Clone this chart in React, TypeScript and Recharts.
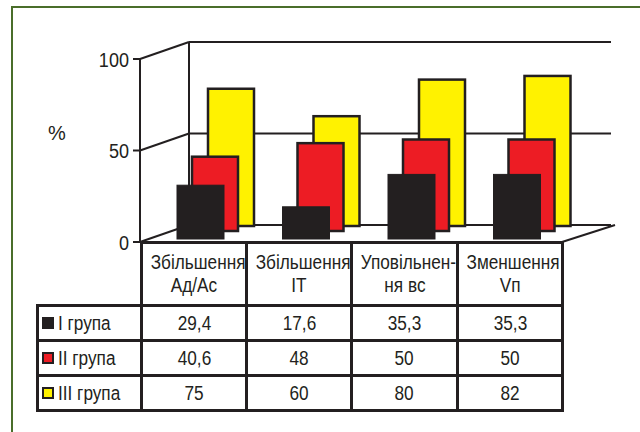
import React from 'react';
import { BarChart, Bar, XAxis, YAxis, CartesianGrid } from 'recharts';

const categories = ['Збільшення Ад/Ас', 'Збільшення ІТ', 'Уповільнення вс', 'Зменшення Vп'];
const headerLines = [
  ['Збільшення', 'Ад/Ас'],
  ['Збільшення', 'ІТ'],
  ['Уповільнен-', 'ня вс'],
  ['Зменшення', 'Vп'],
];
const group1 = [29.4, 17.6, 35.3, 35.3];
const group2 = [40.6, 48, 50, 50];
const group3 = [75, 60, 80, 82];
const seriesNames = ['I група', 'II група', 'III група'];
const yTicks = [0, 50, 100];

const INK = '#231f20';
const COLORS = ['#231f20', '#ed1c24', '#fff200'];
const FONT = '"Liberation Sans", Arial, sans-serif';
const SQUEEZE = 0.86; // the original uses a condensed face

// chart frame (the front plane of the 3d box)
const MARGIN = { top: 59, right: 78, left: 40, bottom: 190 };
const PLOT_H = 432 - MARGIN.top - MARGIN.bottom;
const DX = 49; // depth of the box
const DY = -17;

const data = categories.map((cat, i) => ({
  cat,
  g1: group1[i],
  g2: group2[i],
  g3: group3[i],
}));

const fmt = (v: number) => String(v).replace('.', ',');

// bars sit at different depths: shift them back and up
const depthBar = (dx: number, dy: number, fill: string, outline: boolean) => (props: any) => {
  const { x, y, width, height } = props;
  if (!height) return <g />;
  return (
    <rect
      x={x + dx}
      y={y + dy}
      width={width}
      height={height}
      fill={fill}
      stroke={outline ? INK : fill}
      strokeWidth={outline ? 2.5 : 1}
    />
  );
};

const wallLine = (props: any) => {
  const { x1, y1, x2, index } = props;
  const isTop = Math.abs(y1 - MARGIN.top) < 1;
  const isFloor = Math.abs(y1 - (MARGIN.top + PLOT_H)) < 1;
  return (
    <g key={`wall-${index}`} stroke={INK} strokeWidth={2} fill="none">
      <line x1={x1} y1={y1} x2={x1 + DX} y2={y1 + DY} />
      <line x1={x1 + DX} y1={y1 + DY} x2={x2 + DX} y2={y1 + DY} />
      {isTop && <line x1={x1 + DX} y1={y1 + DY} x2={x1 + DX} y2={y1 + DY + PLOT_H} />}
      {isFloor && <line x1={x1} y1={y1} x2={x2} y2={y1} />}
      {isFloor && <line x1={x2} y1={y1} x2={x2 + DX + 4} y2={y1 + DY} />}
    </g>
  );
};

const NarrowTick = (props: any) => {
  const { x, y, payload } = props;
  return (
    <text
      x={x}
      y={y}
      dy="0.36em"
      textAnchor="end"
      fontFamily={FONT}
      fontSize={21}
      fill={INK}
      transform={`translate(${x} 0) scale(${SQUEEZE} 1) translate(${-x} 0)`}
    >
      {payload.value}
    </text>
  );
};

const Narrow = ({ children }: { children: React.ReactNode }) => (
  <span style={{ display: 'inline-block', transform: `scaleX(${SQUEEZE})`, whiteSpace: 'nowrap' }}>{children}</span>
);

const cellBorder = `3px solid ${INK}`;

const DataTable = () => {
  const rows = [group1, group2, group3];
  const colW = [104, 105, 105, 106, 105];
  return (
    <table
      style={{
        position: 'absolute',
        left: 36,
        top: 241,
        borderCollapse: 'collapse',
        tableLayout: 'fixed',
        width: colW.reduce((a, b) => a + b, 0),
        fontFamily: FONT,
        fontSize: 20,
        color: INK,
      }}
    >
      <colgroup>
        {colW.map((w, i) => (
          <col key={i} style={{ width: w }} />
        ))}
      </colgroup>
      <tbody>
        <tr style={{ height: 63 }}>
          <td style={{ border: 'none', padding: 0 }} />
          {headerLines.map((lines, i) => (
            <td key={i} style={{ border: cellBorder, textAlign: 'center', padding: 0, lineHeight: '23px', whiteSpace: 'nowrap', overflow: 'visible' }}>
              <Narrow>{lines[0]}</Narrow>
              <br />
              <Narrow>{lines[1]}</Narrow>
            </td>
          ))}
        </tr>
        {rows.map((vals, r) => (
          <tr key={r} style={{ height: 35 }}>
            <td style={{ border: cellBorder, padding: '0 0 0 3px', whiteSpace: 'nowrap' }}>
              <span
                style={{
                  display: 'inline-block',
                  width: 8,
                  height: 8,
                  border: `2px solid ${INK}`,
                  background: COLORS[r],
                  marginRight: 4,
                  verticalAlign: 'middle',
                  position: 'relative',
                  top: -1,
                }}
              />
              <span style={{ display: 'inline-block', verticalAlign: 'middle', transform: `scaleX(${SQUEEZE})`, transformOrigin: 'left center' }}>
                {seriesNames[r]}
              </span>
            </td>
            {vals.map((v, i) => (
              <td key={i} style={{ border: cellBorder, textAlign: 'center', padding: 0 }}>
                <Narrow>{fmt(v)}</Narrow>
              </td>
            ))}
          </tr>
        ))}
      </tbody>
    </table>
  );
};

export default function App() {
  return (
    <div style={{ position: 'absolute', left: 0, top: 0, width: 640, height: 432, overflow: 'hidden', background: '#fff' }}>
      <div
        style={{
          position: 'absolute',
          left: 11,
          top: 6,
          width: 640,
          height: 500,
          border: '2px solid #4a6e2a',
          boxSizing: 'border-box',
        }}
      />
      <div style={{ position: 'absolute', left: 0, top: 0 }}>
        <BarChart width={640} height={432} data={data} margin={MARGIN}>
          <CartesianGrid vertical={false} horizontal={wallLine} />
          <XAxis dataKey="cat" hide />
          <XAxis dataKey="cat" xAxisId="b" hide />
          <XAxis dataKey="cat" xAxisId="c" hide />
          <YAxis
            width={100}
            domain={[0, 100]}
            ticks={yTicks}
            interval={0}
            tickSize={7}
            tickMargin={4}
            axisLine={{ stroke: INK, strokeWidth: 2 }}
            tickLine={{ stroke: INK, strokeWidth: 2 }}
            tick={<NarrowTick />}
            label={{ value: '%', position: 'insideLeft', offset: 8, dy: -18, fontFamily: FONT, fontSize: 20, fill: INK }}
          />
          <Bar dataKey="g3" xAxisId="c" barSize={46} isAnimationActive={false} shape={depthBar(38, -16, COLORS[2], true)} />
          <Bar dataKey="g2" xAxisId="b" barSize={46} isAnimationActive={false} shape={depthBar(22, -11, COLORS[1], true)} />
          <Bar dataKey="g1" barSize={47} isAnimationActive={false} shape={depthBar(8, -3, COLORS[0], false)} />
        </BarChart>
      </div>
      <DataTable />
    </div>
  );
}
